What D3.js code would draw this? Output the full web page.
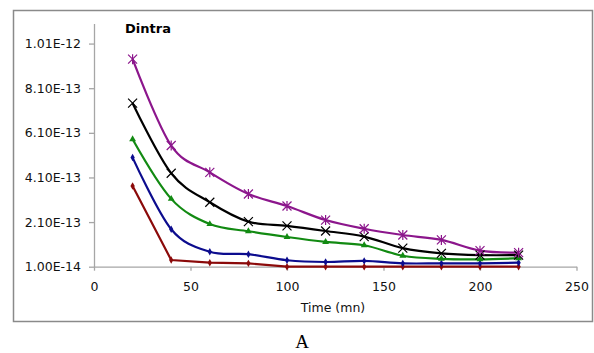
<!DOCTYPE html>
<html lang="en">
<head>
    <meta charset="UTF-8">
    <title>Dintra</title>
    <style>
        body { margin: 0; background: #fff; }
        text { font-family: "DejaVu Sans", "Open Sans", sans-serif; }
    </style>
</head>
<body>
    <script src="https://d3js.org/d3.v7.min.js"></script>
    <script>
        // Time points (mn)
        const times = [20, 40, 60, 80, 100, 120, 140, 160, 180, 200, 220];

        // Series values
        const redVals    = [3.72e-13, 4.0e-14, 2.8e-14, 2.5e-14, 1.0e-14, 1.0e-14, 1.0e-14, 1.0e-14, 1.0e-14, 1.0e-14, 1.0e-14];
        const blueVals   = [4.99e-13, 1.78e-13, 7.7e-14, 6.6e-14, 3.9e-14, 3.1e-14, 3.6e-14, 2.5e-14, 2.5e-14, 2.5e-14, 2.8e-14];
        const greenVals  = [5.81e-13, 3.14e-13, 2.01e-13, 1.69e-13, 1.43e-13, 1.21e-13, 1.06e-13, 5.9e-14, 4.5e-14, 4.3e-14, 4.8e-14];
        const blackVals  = [7.43e-13, 4.29e-13, 2.99e-13, 2.12e-13, 1.93e-13, 1.70e-13, 1.45e-13, 9.3e-14, 7.0e-14, 6.2e-14, 6.2e-14];
        const purpleVals = [9.40e-13, 5.53e-13, 4.33e-13, 3.36e-13, 2.82e-13, 2.19e-13, 1.80e-13, 1.52e-13, 1.30e-13, 8.2e-14, 7.3e-14];

        const xTicks = [0, 50, 100, 150, 200, 250];
        const yTicks = [1.0e-14, 2.1e-13, 4.1e-13, 6.1e-13, 8.1e-13, 1.01e-12];
        const yTickLabels = ["1.00E-14", "2.10E-13", "4.10E-13", "6.10E-13", "8.10E-13", "1.01E-12"];

        const series = [
            { name: "red",    vals: redVals,    color: "#8b0a0a", marker: "dot",      smooth: false },
            { name: "blue",   vals: blueVals,   color: "#0c0c8e", marker: "dot",      smooth: true },
            { name: "green",  vals: greenVals,  color: "#128a12", marker: "triangle", smooth: true },
            { name: "black",  vals: blackVals,  color: "#000000", marker: "cross",    smooth: true },
            { name: "purple", vals: purpleVals, color: "#8c168c", marker: "star",     smooth: true }
        ];

        const width = 594, height = 353;
        const svg = d3.select("body").append("svg")
            .attr("width", width)
            .attr("height", height);

        // outer chart frame
        svg.append("rect")
            .attr("x", 13.5).attr("y", 10.5)
            .attr("width", 579).attr("height", 311)
            .attr("fill", "none")
            .attr("stroke", "#8a8a8a")
            .attr("stroke-width", 1.5);

        const x = d3.scaleLinear().domain([0, 250]).range([94, 576.5]);
        const y = d3.scaleLinear().domain([1.0e-14, 1.1e-12]).range([266.7, 23.5]);

        const axisColor = "#a6a6a6";

        // y axis
        const yAxis = svg.append("g")
            .attr("transform", `translate(${x(0)},0)`)
            .call(d3.axisLeft(y).tickValues(yTicks)
                .tickFormat((d, i) => yTickLabels[i])
                .tickSize(5).tickSizeOuter(0).tickPadding(8));
        // x axis
        const xAxis = svg.append("g")
            .attr("transform", `translate(0,${y(1.0e-14)})`)
            .call(d3.axisBottom(x).tickValues(xTicks)
                .tickSize(4).tickSizeOuter(0).tickPadding(9));

        [yAxis, xAxis].forEach(g => {
            g.select(".domain").attr("stroke", axisColor).attr("stroke-width", 1.3);
            g.selectAll(".tick line").attr("stroke", axisColor).attr("stroke-width", 1.3);
            g.selectAll(".tick text")
                .attr("fill", "#111")
                .style("font-size", "12.5px")
                .style("font-family", "\"DejaVu Sans\", sans-serif");
        });
        xAxis.selectAll(".tick text").attr("dy", "0.9em");

        // lines
        const lineSmooth = d3.line()
            .x((d, i) => x(times[i]))
            .y(d => y(d))
            .curve(d3.curveCardinal.tension(0));
        const lineStraight = d3.line()
            .x((d, i) => x(times[i]))
            .y(d => y(d));

        series.forEach(s => {
            svg.append("path")
                .datum(s.vals)
                .attr("fill", "none")
                .attr("stroke", s.color)
                .attr("stroke-width", 2.2)
                .attr("d", s.smooth ? lineSmooth : lineStraight);
        });

        // markers
        series.forEach(s => {
            const g = svg.append("g");
            s.vals.forEach((v, i) => {
                const cx = x(times[i]), cy = y(v);
                if (s.marker === "dot") {
                    g.append("path")
                        .attr("d", d3.symbol(d3.symbolDiamond, 16)())
                        .attr("transform", `translate(${cx},${cy})`)
                        .attr("fill", s.color);
                } else if (s.marker === "triangle") {
                    g.append("path")
                        .attr("d", d3.symbol(d3.symbolTriangle, 20)())
                        .attr("transform", `translate(${cx},${cy})`)
                        .attr("fill", s.color);
                } else {
                    const r = 4.5;
                    let d = `M${cx - r},${cy - r}L${cx + r},${cy + r}M${cx - r},${cy + r}L${cx + r},${cy - r}`;
                    if (s.marker === "star") d += `M${cx},${cy - r - 0.5}L${cx},${cy + r + 0.5}`;
                    g.append("path")
                        .attr("d", d)
                        .attr("stroke", s.color)
                        .attr("stroke-width", 1.2)
                        .attr("fill", "none");
                }
            });
        });

        // title inside plot
        svg.append("text")
            .attr("x", 125).attr("y", 33)
            .style("font-size", "13px")
            .style("font-weight", "bold")
            .attr("fill", "#000")
            .text("Dintra");

        // x axis title
        svg.append("text")
            .attr("x", 333).attr("y", 312)
            .attr("text-anchor", "middle")
            .style("font-size", "12.5px")
            .attr("fill", "#111")
            .text("Time (mn)");

        // panel label
        svg.append("text")
            .attr("x", 302).attr("y", 348)
            .attr("text-anchor", "middle")
            .style("font-family", "\"Liberation Serif\", \"DejaVu Serif\", serif")
            .style("font-size", "19px")
            .attr("fill", "#000")
            .text("A");
    </script>
</body>
</html>
